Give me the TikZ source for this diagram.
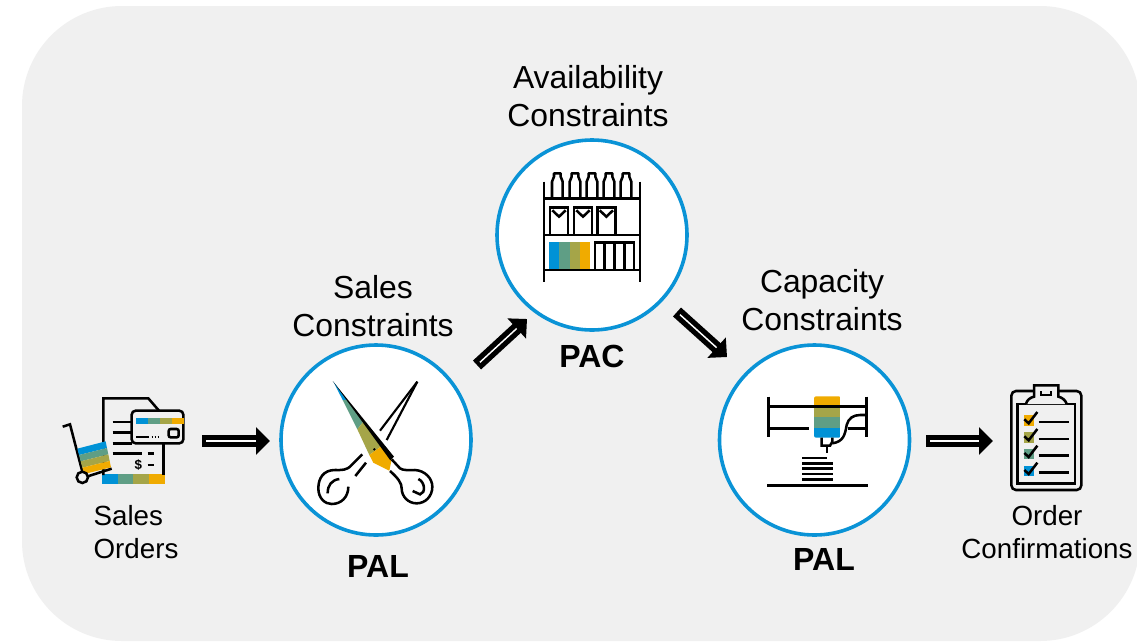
\documentclass[tikz,border=0pt]{standalone}
\usepackage{fontspec}
\setmainfont{Liberation Sans}
\usetikzlibrary{arrows.meta}
\definecolor{cblue}{HTML}{0092D6}
\definecolor{cgreen}{HTML}{5F9E85}
\definecolor{colive}{HTML}{A5A548}
\definecolor{cgold}{HTML}{F0AB00}
\definecolor{ring}{HTML}{0A93D6}
\definecolor{panel}{HTML}{F0F0F0}
\tikzset{
  ringnode/.style={circle,draw=ring,fill=white,line width=2.7pt,minimum size=142.5pt,inner sep=0pt},
  biglabel/.style={align=center,font=\fontsize{23.9}{28.5}\selectfont},
  smalllabel/.style={align=center,font=\fontsize{20.8}{24.75}\selectfont},
  smallleft/.style={align=left,font=\fontsize{20.8}{24.75}\selectfont},
  boldlabel/.style={font=\fontsize{24}{28}\selectfont\bfseries},
  dblout/.style={line width=9pt,-{Triangle[length=10.5pt,width=20pt]}},
  dblin/.style={line width=1.1pt,white,shorten >=10.5pt,shorten <=3pt},
  ink/.style={line width=1.9pt,black},
  thinink/.style={line width=1.6pt,black},
  icon/.style={x=.25pt,y=-.25pt}
}
\begin{document}
\begin{tikzpicture}[x=.75pt,y=-.75pt]
\useasboundingbox (0,0) rectangle (1137,643);
\begin{scope}
\clip (0,0) rectangle (1137,643);
\fill[white] (0,0) rectangle (1137,643);
\fill[panel,rounded corners=75pt] (22,6) rectangle (1140,641);
\end{scope}

% rings
\node[ringnode] (pal1) at (376,440) {};
\node[ringnode] (pac) at (592,235) {};
\node[ringnode] (pal2) at (814.5,440) {};

% labels
\node[biglabel] (lsales) at (373,306) {Sales\\Constraints};
\node[biglabel] (lavail) at (588,96.5) {Availability\\Constraints};
\node[biglabel] (lcap) at (822,300) {Capacity\\Constraints};
\node[smallleft] (lorders) at (136,532) {Sales\\Orders};
\node[smalllabel] (lconf) at (1047,532) {Order\\Confirmations};
\node[boldlabel] (bpal1) at (378,566) {PAL};
\node[boldlabel] (bpac) at (592,356) {PAC};
\node[boldlabel] (bpal2) at (824,559) {PAL};

% connector ends
\coordinate (a1s) at (202,441); \coordinate (a1e) at (270,441);
\coordinate (a2s) at (477,365); \coordinate (a2e) at (527,319);
\coordinate (a3s) at (677,312); \coordinate (a3e) at (727,357);
\coordinate (a4s) at (926,441); \coordinate (a4e) at (993,441);
\foreach \s/\e in {a1s/a1e,a2s/a2e,a3s/a3e,a4s/a4e}{
  \draw[dblout] (\s) -- (\e);
  \draw[dblin] (\s) -- (\e);
}

% icon: sales orders
\begin{scope}[shift={(40,380)},icon]
\fill[cblue] (187,283) rectangle (234,312);
\fill[cgreen] (234,283) rectangle (280,312);
\fill[colive] (280,283) rectangle (327,312);
\fill[cgold] (327,283) rectangle (374,312);
\draw[ink] (190,285) -- (190,55) -- (325,55) -- (357,92);
\draw[ink] (370,190) -- (370,285);
\draw[ink,fill=panel,rounded corners=3pt] (275,92) rectangle (430,190);
\fill[cblue] (289,114) rectangle (325,132);
\fill[cgreen] (325,114) rectangle (360,132);
\fill[colive] (360,114) rectangle (396,132);
\fill[cgold] (396,114) rectangle (432,132);
\draw[ink] (289,171) -- (328,171);
\draw[line width=1.5pt,dash pattern=on 1pt off 1.2pt] (335,171) -- (360,171);
\draw[ink,rounded corners=1.5pt] (386,147) rectangle (416,172);
\draw[ink] (218,126) -- (272,126);
\draw[ink] (218,158) -- (272,158);
\draw[ink] (218,190) -- (275,190);
\draw[ink] (218,221) -- (305,221);
\draw[ink] (323,221) -- (343,221);
\draw[ink] (323,255) -- (343,255);
\node[font=\fontsize{10}{10}\selectfont\bfseries,inner sep=0pt] (dollar) at (295,255) {\$};
\draw[ink] (68,140) -- (90,133) -- (127,275);
\fill[cblue] (112,206) -- (197,184) -- (201,204) -- (117,225) -- cycle;
\fill[cgreen] (117,225) -- (201,204) -- (205,223) -- (122,244) -- cycle;
\fill[colive] (122,244) -- (205,223) -- (209,243) -- (127,263) -- cycle;
\fill[cgold] (127,263) -- (209,243) -- (213,262) -- (133,282) -- cycle;
\draw[ink] (140,290) -- (215,266);
\draw[ink,fill=panel] (127,292) circle (17);
\end{scope}

% icon: scissors
\begin{scope}[shift={(280,340)},icon]
\fill[cblue] (160,125) -- (201,180) -- (188,180) -- cycle;
\fill[cgreen] (188,180) -- (201,180) -- (250,245) -- (232,268) -- cycle;
\fill[colive] (232,268) -- (250,245) -- (305,318) -- (268,345) -- cycle;
\fill[cgold] (268,345) -- (305,318) -- (335,358) -- (328,392) -- (280,368) -- cycle;
\fill[black] (158,123) -- (342,350) -- (331,361) -- cycle;
\fill[black] (283,328) circle (4);
\draw[thinink] (412,125) -- (300,272);
\draw[thinink] (412,125) -- (320,300);
\draw[ink] (247,343) -- (215,375) .. controls (200,392) and (185,390) .. (165,390)
  .. controls (130,390) and (115,415) .. (115,445)
  .. controls (115,475) and (135,492) .. (155,492)
  .. controls (185,492) and (205,470) .. (205,440);
\draw[ink] (258,368) -- (226,408);
\draw[ink] (178,417) .. controls (155,420) and (143,435) .. (143,460);
\draw[ink] (335,358) -- (360,385) .. controls (370,392) and (385,390) .. (405,390)
  .. controls (435,392) and (457,415) .. (457,440)
  .. controls (457,470) and (435,490) .. (410,490)
  .. controls (385,490) and (365,470) .. (365,445)
  .. controls (365,430) and (355,415) .. (330,393);
\draw[ink] (415,417) .. controls (435,425) and (438,460) .. (420,463) -- (398,453);
\end{scope}

% icon: shelf
\begin{scope}[shift={(495,135)},icon]
\draw[ink] (147,140) -- (147,440);
\draw[ink] (435,140) -- (435,440);
\draw[ink] (147,190) -- (435,190);
\draw[ink] (147,300) -- (435,300);
\draw[ink] (147,405) -- (435,405);
\foreach \c in {187,240,291,342,393}{
  \draw[ink,shift={(\c,0)},line join=round] (-16,188) -- (-16,140) -- (-10,125) -- (-10,115) -- (10,115) -- (10,125) -- (16,140) -- (16,188);
}
\foreach \b in {165,237,307}{
  \draw[ink,shift={(\b,0)}] (0,300) -- (0,218) -- (54,218) -- (54,300);
  \draw[ink,shift={(\b,0)}] (7,226) -- (27,245) -- (47,226);
}
\fill[cblue] (163,320) rectangle (193,402);
\fill[cgreen] (193,320) rectangle (224,402);
\fill[colive] (224,320) rectangle (254,402);
\fill[cgold] (254,320) rectangle (285,402);
\draw[ink] (300,405) -- (300,322) -- (417,322) -- (417,405);
\draw[ink] (329,322) -- (329,405);
\draw[ink] (359,322) -- (359,405);
\draw[ink] (388,322) -- (388,405);
\end{scope}

% icon: printer
\begin{scope}[shift={(715,340)},icon]
\begin{scope}
\clip[rounded corners=1.5pt] (297,169) rectangle (377,293);
\fill[cgold] (297,169) rectangle (377,200);
\fill[colive] (297,200) rectangle (377,232);
\fill[cgreen] (297,232) rectangle (377,263);
\fill[cblue] (297,263) rectangle (377,293);
\end{scope}
\draw[ink] (160,170) -- (160,292);
\draw[ink] (455,170) -- (455,292);
\draw[ink] (160,200) -- (455,200);
\draw[ink] (160,265) -- (282,265);
\draw[ink] (398,265) -- (455,265);
\draw[ink] (320,293) -- (320,317) -- (345,317) -- (352,305) -- (352,293);
\draw[ink] (336,317) -- (336,340);
\draw[ink] (352,310) .. controls (385,305) and (390,285) .. (395,255)
  .. controls (400,235) and (415,225) .. (435,225) -- (455,225);
\draw[ink] (262,354) -- (335,354);
\foreach \y in {370,386,402,418}{\draw[ink] (262,\y) -- (353,\y);}
\draw[ink] (157,436) -- (458,436);
\end{scope}

% icon: clipboard
\begin{scope}[shift={(920,380)},icon]
\draw[ink,rounded corners=3.5pt] (274,33) rectangle (484,330);
\draw[line width=2.1pt] (293,72) rectangle (465,310);
\draw[ink,fill=panel] (318,72) .. controls (320,60) and (332,52) .. (342,50) -- (342,16) -- (415,16) -- (415,50)
  .. controls (425,52) and (437,60) .. (440,72);
\draw[thinink] (363,34) -- (363,46) -- (393,46) -- (393,34);
\foreach \y/\c in {0/cgold,51/colive,101/cgreen,152/cblue}{
  \fill[\c,shift={(0,\y)}] (311,105) rectangle (341,137);
  \draw[ink,shift={(0,\y)}] (313,118) -- (326,130) -- (352,96);
  \draw[ink,shift={(0,\y)}] (356,126) -- (446,126);
}
\end{scope}
\end{tikzpicture}
\end{document}
